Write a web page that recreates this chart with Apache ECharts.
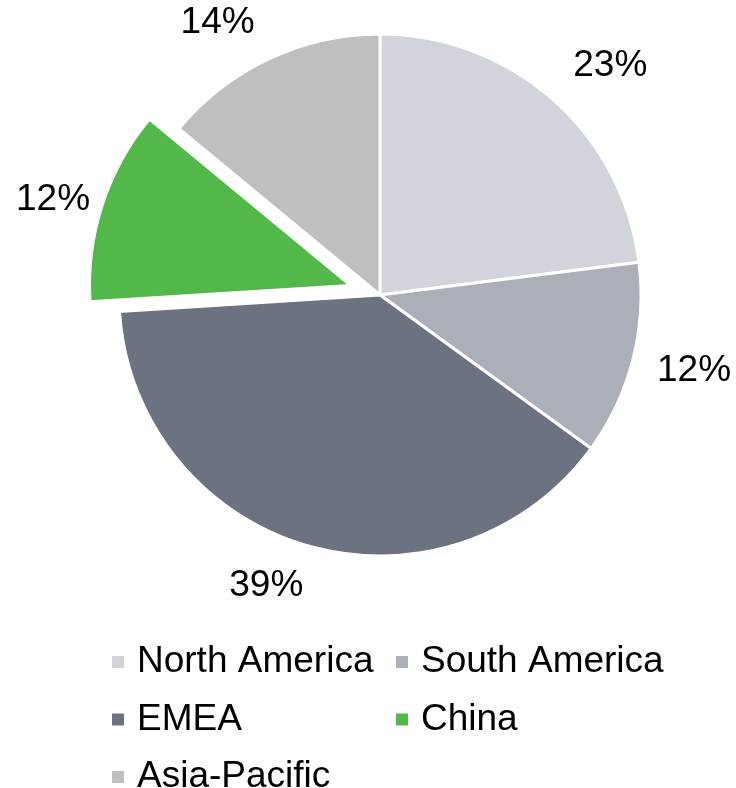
<!DOCTYPE html>
<html>
<head>
<meta charset="utf-8">
<script src="https://cdn.jsdelivr.net/npm/echarts@6/dist/echarts.min.js"></script>
<style>
  html, body { margin: 0; padding: 0; background: #fff; }
  #main { width: 736px; height: 788px; }
</style>
</head>
<body>
<div id="main"></div>
<script>
  var regions = ['North America', 'South America', 'EMEA', 'China', 'Asia-Pacific'];
  var shares = [23, 12, 39, 12, 14];
  var colors = ['#d1d5db', '#abafb8', '#6b7280', '#52b84a', '#bfbfbf'];
  var exploded = 'China';
  // 标签微调（像素），模仿原图的摆放
  var labelNudge = [[20, 9], [6, -3], [-25, -15], [4, 4], [-27, 16]];

  var cx = 380, cy = 295, r = 261, offset = 31, labelR = 318;
  var font = '"Liberation Sans", Arial, sans-serif';

  var total = shares.reduce(function (a, b) { return a + b; }, 0);

  // 各扇区中间角度（顺时针，从12点开始）
  var midAngles = [];
  var acc = 0;
  shares.forEach(function (v) {
    midAngles.push((acc + v / 2) / total * 2 * Math.PI);
    acc += v;
  });

  var myChart = echarts.init(document.getElementById('main'));

  var legendText = { fontSize: 37, color: '#000', fontFamily: font, lineHeight: 40, padding: [0, 0, 0, 7] };

  function legendOf(names, left) {
    return {
      data: names,
      orient: 'vertical',
      left: left,
      top: 637,
      height: 170,
      icon: 'rect',
      itemWidth: 14,
      itemHeight: 14,
      itemGap: 17.5,
      selectedMode: false,
      textStyle: legendText
    };
  }

  var option = {
    animation: false,
    legend: [
      legendOf([regions[0], regions[2], regions[4]], 105),
      legendOf([regions[1], regions[3]], 389)
    ],
    series: [{
      type: 'pie',
      center: [cx, cy],
      radius: [0, r],
      startAngle: 90,
      clockwise: true,
      selectedMode: 'single',
      selectedOffset: offset,
      itemStyle: { borderColor: '#fff', borderWidth: 3 },
      label: {
        show: true,
        position: 'outside',
        formatter: '{d}%',
        fontSize: 37,
        color: '#000',
        fontFamily: font,
        overflow: 'none',
        edgeDistance: 0
      },
      labelLine: { show: false },
      labelLayout: function (p) {
        var a = midAngles[p.dataIndex];
        var x = cx, y = cy;
        if (regions[p.dataIndex] === exploded) {
          x += offset * Math.sin(a);
          y -= offset * Math.cos(a);
        }
        var n = labelNudge[p.dataIndex];
        return {
          x: x + labelR * Math.sin(a) + n[0],
          y: y - labelR * Math.cos(a) + n[1],
          align: 'center',
          verticalAlign: 'middle'
        };
      },
      emphasis: { disabled: true },
      data: regions.map(function (name, i) {
        return {
          name: name,
          value: shares[i],
          selected: name === exploded,
          itemStyle: { color: colors[i] }
        };
      })
    }]
  };

  myChart.setOption(option);
</script>
</body>
</html>
